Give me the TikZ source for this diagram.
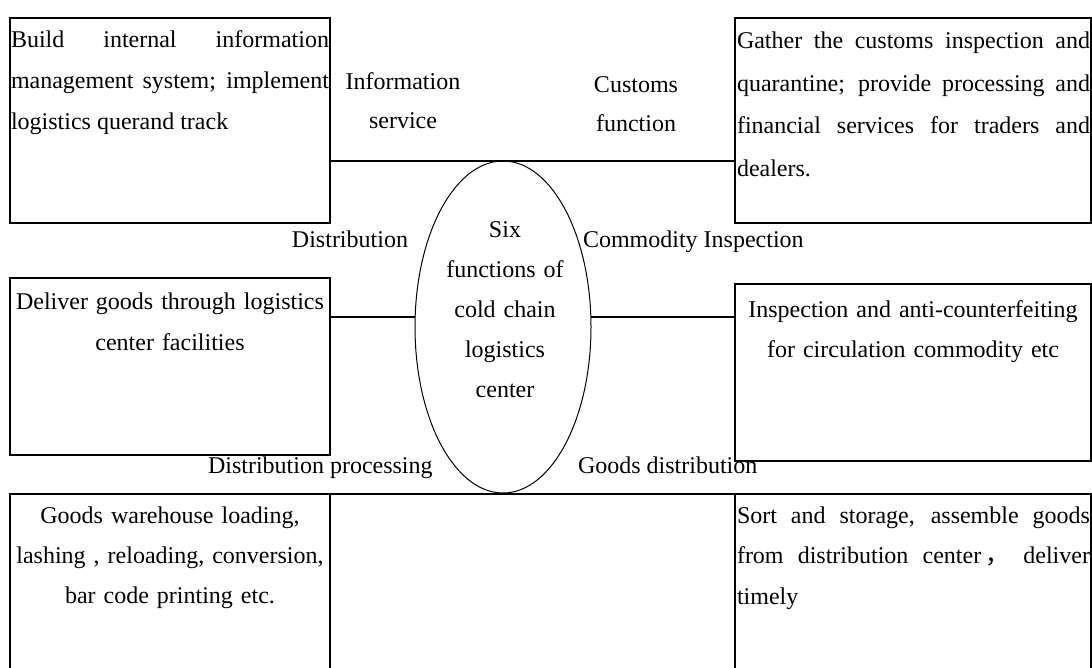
\documentclass[tikz,border=0pt]{standalone}
\usepackage{fontspec}
\setmainfont{Liberation Serif}
\newfontfamily\cjk{Noto Sans CJK SC}
\usetikzlibrary{shapes.geometric}
\begin{document}
\begin{tikzpicture}[x=1pt,y=-1pt,
  box/.style={draw, line width=1.2pt, inner sep=0pt, outer sep=0pt, anchor=north west, rectangle},
  conn/.style={line width=1.5pt},
  txt/.style={inner sep=0pt, outer sep=0pt},
  fs/.style={font=\fontsize{24}{#1}\selectfont}
]
\useasboundingbox (0,0) rectangle (1092,668);
\clip (0,0) rectangle (1092,668);
\fill[white] (0,0) rectangle (1092,668);
% boxes
\node[box, minimum width=320pt, minimum height=205pt] (tl) at (10,18) {};
\node[box, minimum width=356pt, minimum height=205pt] (tr) at (735,18) {};
\node[box, minimum width=320pt, minimum height=177pt] (ml) at (10,278) {};
\node[box, minimum width=356pt, minimum height=177pt] (mr) at (735,284) {};
\node[box, minimum width=320pt, minimum height=230pt] (bl) at (10,494) {};
\node[box, minimum width=356pt, minimum height=230pt] (br) at (735,494) {};
% centre ellipse
\node[draw, ellipse, line width=1pt, minimum width=176pt, minimum height=332pt, inner sep=0pt, outer sep=0pt] (el) at (503,327) {};
% connectors
\coordinate (mid) at (0,317);
\draw[conn] (tl.east |- el.north) -- (tr.west |- el.north);
\draw[conn] (ml.east |- mid) -- (el.west |- mid);
\draw[conn] (el.east |- mid) -- (mr.west |- mid);
\draw[conn] (bl.north east) -- (br.north west);
% box texts
\node[txt, fs=41, anchor=base west, text width=318pt, align=justify] (tlt) at (11,48)
  {Build internal information\linebreak management system; implement\linebreak logistics querand track};
\node[txt, fs=42.5, anchor=base west, text width=353pt, align=justify] (trt) at (737,49)
  {Gather the customs inspection and\linebreak quarantine; provide processing and\linebreak financial services for traders and\linebreak dealers.};
\node[txt, fs=41, anchor=base, text width=318pt, align=center] (mlt) at (170,309)
  {Deliver goods through logistics\\center facilities};
\node[txt, fs=40, anchor=base, text width=353pt, align=center] (mrt) at (913,317)
  {Inspection and anti-counterfeiting\\for circulation commodity etc};
\node[txt, fs=40, anchor=base, text width=318pt, align=center] (blt) at (170,523)
  {Goods warehouse loading,\\lashing , reloading, conversion,\\bar code printing etc.};
\node[txt, fs=40.5, anchor=base west, text width=353pt, align=justify] (brt) at (737,523)
  {Sort and storage, assemble goods\linebreak from distribution center\,{\cjk ，} deliver\linebreak timely};
% function labels
\node[txt, fs=39, anchor=base, text width=140pt, align=center] (info) at (403,90) {Information\\service};
\node[txt, fs=39, anchor=base, text width=140pt, align=center] (cust) at (636,93) {Customs\\function};
\node[txt, fs=24, anchor=base east] (dist) at (408,248) {Distribution};
\node[txt, fs=24, anchor=base west] (comm) at (583,248) {Commodity Inspection};
\node[txt, fs=24, anchor=base west] (dproc) at (208,473) {Distribution processing};
\node[txt, fs=24, anchor=base west] (gdist) at (578,473) {Goods distribution};
% ellipse text
\node[txt, fs=40, anchor=base, text width=160pt, align=center] (elt) at (505,238)
  {Six\\functions of\\cold chain\\logistics\\center};
\end{tikzpicture}
\end{document}
